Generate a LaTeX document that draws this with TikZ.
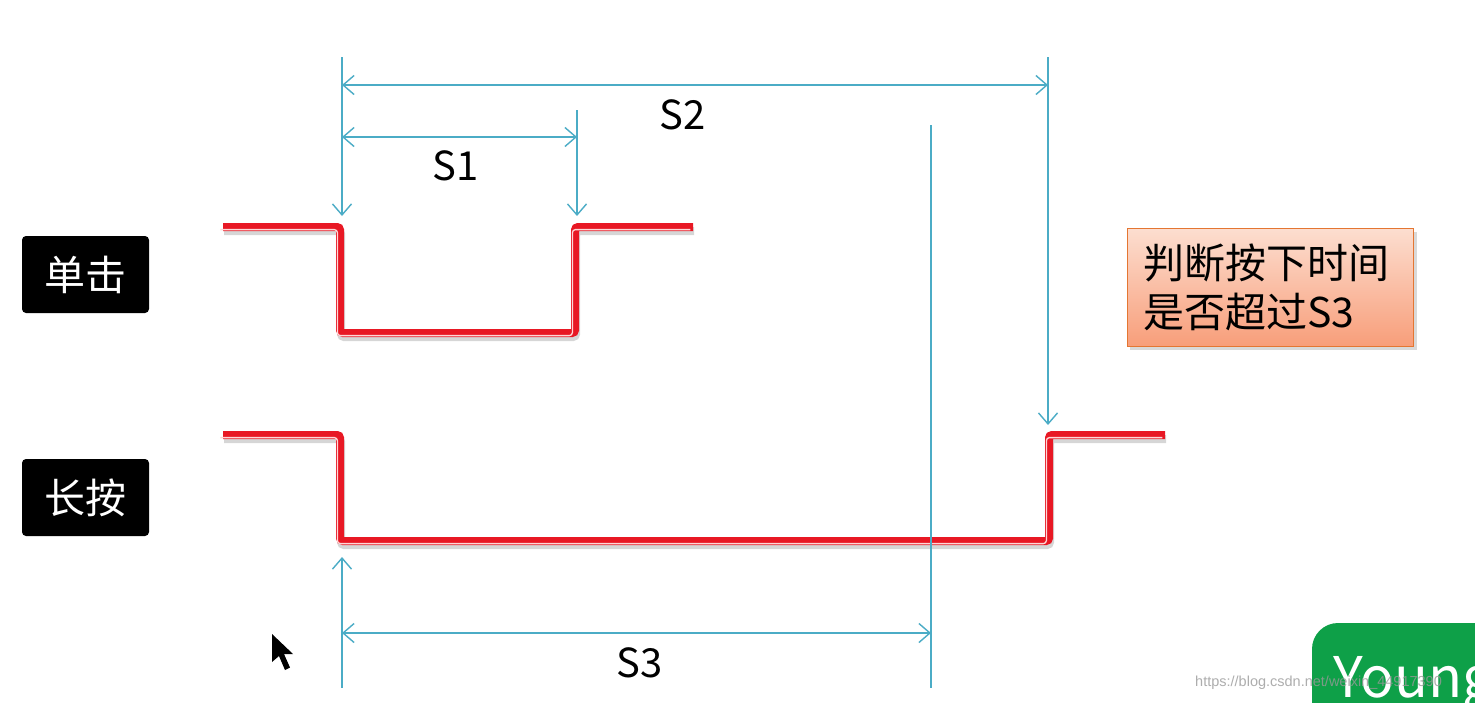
\documentclass[tikz,border=0pt]{standalone}
\usepackage{fontspec}
\setmainfont{Noto Sans CJK SC}
\newfontfamily\wmfont{Liberation Sans}
\usetikzlibrary{arrows.meta}
\definecolor{dimc}{RGB}{75,172,198}
\definecolor{wavered}{RGB}{232,24,36}
\definecolor{hilite}{RGB}{255,215,215}
\definecolor{boxtop}{RGB}{252,222,208}
\definecolor{boxbot}{RGB}{248,158,122}
\definecolor{boxline}{RGB}{228,118,50}
\definecolor{yg}{RGB}{14,160,72}
\begin{document}
\begin{tikzpicture}[x=1pt,y=-1pt,
  dim/.style={draw=dimc, line width=1.4pt},
  tipd/.tip={Straight Barb[length=11pt,width=19pt,line width=1.4pt]},
  wave/.style={draw=wavered, line width=8pt, rounded corners=3pt,
    preaction={draw=black, opacity=0.16, line width=8pt, transform canvas={xshift=1pt,yshift=-4pt}},
    postaction={draw=hilite, line width=1.3pt, transform canvas={xshift=-2.6pt,yshift=-2.6pt}}},
  tag/.style={fill=black, text=white, rounded corners=4pt, minimum width=127pt, minimum height=77pt,
    inner sep=0pt, font=\fontsize{41}{48}\selectfont},
  dimlabel/.style={font=\fontsize{40}{48}\selectfont, inner sep=0pt}
]
\useasboundingbox (0,0) rectangle (1475,702);
\fill[white] (0,0) rectangle (1475,702);

% labels
\node[tag] (single) at (85.5,274.5) {单击};
\node[tag] (long) at (85.5,497.5) {长按};

% waveforms
\coordinate (s0) at (223,227);
\coordinate (s1) at (340,227);
\coordinate (s2) at (340,333);
\coordinate (s3) at (575,333);
\coordinate (s4) at (575,227);
\coordinate (s5) at (693,227);
\draw[wave] (s0) -- (s1) -- (s2) -- (s3) -- (s4) -- (s5);

\coordinate (l0) at (223,435);
\coordinate (l1) at (340,435);
\coordinate (l2) at (340,541);
\coordinate (l3) at (1049,541);
\coordinate (l4) at (1049,435);
\coordinate (l5) at (1165,435);
\draw[wave] (l0) -- (l1) -- (l2) -- (l3) -- (l4) -- (l5);

% dimension lines
\coordinate (a0) at (342,57);
\coordinate (a1) at (342,216);
\coordinate (b0) at (577,110);
\coordinate (b1) at (577,216);
\coordinate (c0) at (1048,57);
\coordinate (c1) at (1048,425);
\coordinate (d0) at (931,125);
\coordinate (d1) at (931,688);
\coordinate (e0) at (342,557);
\coordinate (e1) at (342,688);

\draw[dim, -{tipd}] (a0) -- (a1);
\draw[dim, -{tipd}] (b0) -- (b1);
\draw[dim, -{tipd}] (c0) -- (c1);
\draw[dim] (d0) -- (d1);
\draw[dim, {tipd}-] (e0) -- (e1);

\coordinate (s2l) at (342,85);
\coordinate (s2r) at (1048,85);
\draw[dim, {tipd}-{tipd}] (s2l) -- (s2r);
\coordinate (s1l) at (342,137);
\coordinate (s1r) at (577,137);
\draw[dim, {tipd}-{tipd}] (s1l) -- (s1r);
\coordinate (s3l) at (342,633);
\coordinate (s3r) at (931,633);
\draw[dim, {tipd}-{tipd}] (s3l) -- (s3r);

\node[dimlabel] (S2) at (683,115) {S2};
\node[dimlabel] (S1) at (456,166) {S1};
\node[dimlabel] (S3) at (640,663) {S3};

% note box
\fill[black, opacity=0.15] (1130,232) rectangle (1417,350);
\shade[top color=boxtop, bottom color=boxbot, draw=boxline, line width=1pt]
  (1127,228) rectangle (1413,346);
\node[anchor=west, align=left, inner sep=0pt,
  font=\fontsize{41}{49}\selectfont] (note) at (1143,287) {判断按下时间\\是否超过S3};

% cursor
\fill[black] (272,634) -- (272,662) -- (279,656) -- (285,670) -- (290,667.5) -- (284,654) -- (293,654) -- cycle;

% corner badge
\begin{scope}
\clip (0,0) rectangle (1475,702);
\fill[yg, rounded corners=26pt] (1312,740) -- (1312,623) -- (1520,623) -- (1520,740) -- cycle;
\node[anchor=base west, inner sep=0pt, text=white, font=\fontsize{56}{60}\selectfont] (young) at (1333,697) {Young};
\node[anchor=west, inner sep=0pt, text=black!40, opacity=0.8, font=\wmfont\fontsize{14.5}{16}\selectfont] (wm) at (1195,683) {https://blog.csdn.net/weixin\_44917390};
\end{scope}
\end{tikzpicture}
\end{document}
